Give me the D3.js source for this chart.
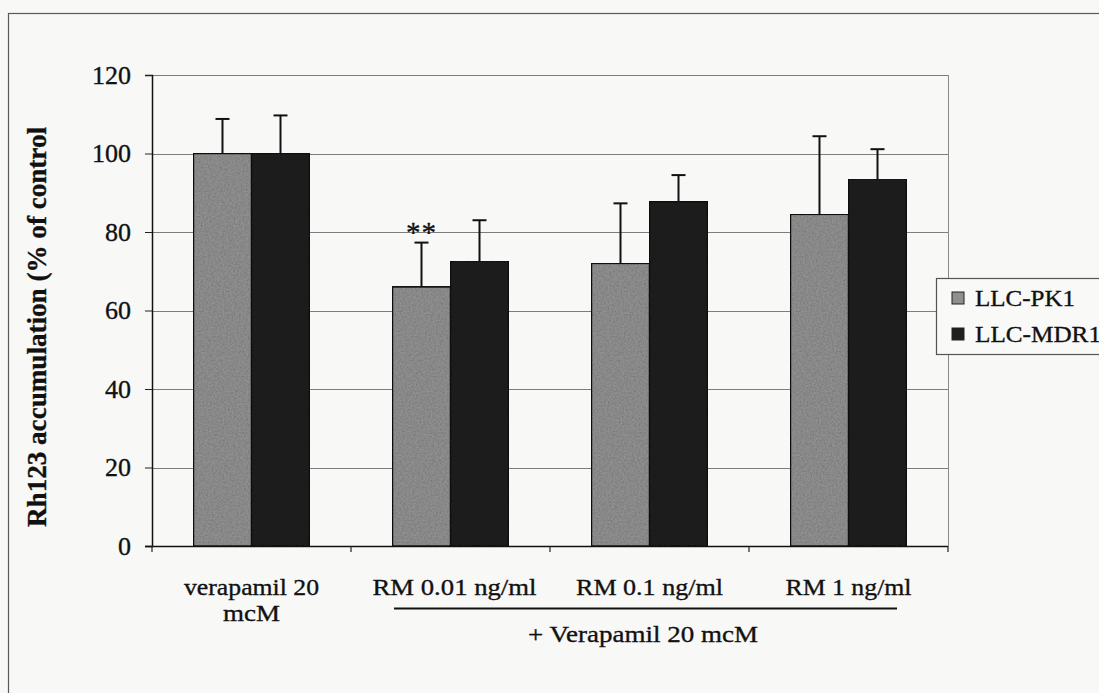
<!DOCTYPE html>
<html>
<head>
<meta charset="utf-8">
<script src="https://cdn.jsdelivr.net/npm/d3@7"></script>
<style>
  html, body { margin: 0; padding: 0; background: #f8f8f7; }
  svg { display: block; }
  svg text { font-family: "Liberation Serif", "Times New Roman", Tinos, Times, serif; fill: #111; stroke: #111; stroke-width: 0.35px; }
</style>
</head>
<body>
<svg id="chart" width="1099" height="693"></svg>
<script>
// Rh123 accumulation, % of control (upper SD shown as error bar)
const categories = ["verapamil 20 mcM", "RM 0.01 ng/ml", "RM 0.1 ng/ml", "RM 1 ng/ml"];
const categoryLines = [["verapamil 20", "mcM"], ["RM 0.01 ng/ml"], ["RM 0.1 ng/ml"], ["RM 1 ng/ml"]];
const seriesNames = ["LLC-PK1", "LLC-MDR1"];
const pk1Values = [100, 66, 72, 84.5];
const pk1Errors = [8.8, 11.3, 15.3, 19.9];
const mdr1Values = [100, 72.6, 87.7, 93.5];
const mdr1Errors = [9.7, 10.4, 6.8, 7.6];
const yTicks = [0, 20, 40, 60, 80, 100, 120];
const yTitle = "Rh123 accumulation (% of control";
const groupLabel = "+ Verapamil 20 mcM";
const significance = [{ category: "RM 0.01 ng/ml", series: "LLC-PK1", mark: "**" }];

const seriesColors = { "LLC-PK1": "#8f8f8f", "LLC-MDR1": "#1f1f1f" };

const svg = d3.select("#chart");
const plot = { left: 152, right: 948, top: 75, bottom: 546 };

// grain for the grey/black fills
const defs = svg.append("defs");
const grain = defs.append("filter").attr("id", "grain").attr("x", 0).attr("y", 0).attr("width", 1).attr("height", 1);
grain.append("feTurbulence").attr("type", "fractalNoise").attr("baseFrequency", 0.55).attr("numOctaves", 2).attr("seed", 4).attr("result", "noise");
grain.append("feColorMatrix").attr("in", "noise").attr("type", "matrix")
  .attr("values", "0 0 0 0 0  0 0 0 0 0  0 0 0 0 0  0 0 0 0.6 -0.2").attr("result", "speckle");
grain.append("feComposite").attr("in", "speckle").attr("in2", "SourceGraphic").attr("operator", "atop").attr("result", "sp");
grain.append("feMerge").call(m => { m.append("feMergeNode").attr("in", "SourceGraphic"); m.append("feMergeNode").attr("in", "sp"); });

// outer frame of the figure
svg.append("rect").attr("x", 8.5).attr("y", 13.5).attr("width", 1200).attr("height", 800)
  .attr("fill", "none").attr("stroke", "#5a5a5a").attr("stroke-width", 1.2);

const x0 = d3.scaleBand().domain(categories).range([plot.left, plot.right]).padding(0);
const x1 = d3.scaleBand().domain(seriesNames).range([0, x0.bandwidth()]).paddingInner(0).paddingOuter(0.715);
const y = d3.scaleLinear().domain([0, 120]).range([plot.bottom, plot.top]);

// gridlines and right border of the plot area
svg.append("g").selectAll("line").data(yTicks.filter(t => t > 0)).join("line")
  .attr("x1", plot.left).attr("x2", plot.right)
  .attr("y1", d => Math.round(y(d)) + 0.5).attr("y2", d => Math.round(y(d)) + 0.5)
  .attr("stroke", "#7d7d7d").attr("stroke-width", 1);
svg.append("line").attr("x1", plot.right + 0.5).attr("x2", plot.right + 0.5)
  .attr("y1", plot.top).attr("y2", plot.bottom).attr("stroke", "#8a8a8a").attr("stroke-width", 1);

// y axis
const yAxis = svg.append("g").attr("transform", `translate(${plot.left},0)`)
  .call(d3.axisLeft(y).tickValues(yTicks).tickSize(7).tickPadding(14));
yAxis.attr("font-family", null).attr("font-size", null);
yAxis.select(".domain").attr("stroke", "#111").attr("stroke-width", 1.5);
yAxis.selectAll(".tick line").attr("stroke", "#222");
yAxis.selectAll(".tick text").attr("font-size", 26).attr("fill", "#111");

// x axis with ticks at category boundaries
const xAxisG = svg.append("g").attr("transform", `translate(0,${plot.bottom})`);
xAxisG.append("line").attr("x1", plot.left - 7).attr("x2", plot.right).attr("y1", 0.5).attr("y2", 0.5)
  .attr("stroke", "#111").attr("stroke-width", 1.5);
const boundaries = categories.map(c => x0(c)).concat([x0(categories[categories.length - 1]) + x0.bandwidth()]);
xAxisG.selectAll("line.tk").data(boundaries).join("line").attr("class", "tk")
  .attr("x1", d => d).attr("x2", d => d).attr("y1", 0).attr("y2", 6)
  .attr("stroke", "#222").attr("stroke-width", 1.2);

// bars
const rows = categories.map((c, i) => ({
  category: c,
  values: [
    { series: "LLC-PK1", value: pk1Values[i], err: pk1Errors[i] },
    { series: "LLC-MDR1", value: mdr1Values[i], err: mdr1Errors[i] }
  ]
}));
const groups = svg.append("g").selectAll("g").data(rows).join("g")
  .attr("transform", d => `translate(${x0(d.category)},0)`);
groups.selectAll("rect").data(d => d.values).join("rect")
  .attr("x", d => x1(d.series)).attr("width", x1.bandwidth())
  .attr("y", d => y(d.value)).attr("height", d => y(0) - y(d.value))
  .attr("fill", d => seriesColors[d.series]).attr("stroke", "#111").attr("stroke-width", 1.5)
  .attr("filter", "url(#grain)");

// upper error bars
const capHalf = 7;
groups.selectAll("line.err").data(d => d.values).join("line").attr("class", "err")
  .attr("x1", d => x1(d.series) + x1.bandwidth() / 2).attr("x2", d => x1(d.series) + x1.bandwidth() / 2)
  .attr("y1", d => y(d.value)).attr("y2", d => y(d.value + d.err))
  .attr("stroke", "#111").attr("stroke-width", 2);
groups.selectAll("line.cap").data(d => d.values).join("line").attr("class", "cap")
  .attr("x1", d => x1(d.series) + x1.bandwidth() / 2 - capHalf).attr("x2", d => x1(d.series) + x1.bandwidth() / 2 + capHalf)
  .attr("y1", d => y(d.value + d.err)).attr("y2", d => y(d.value + d.err))
  .attr("stroke", "#111").attr("stroke-width", 2);

// significance marks
significance.forEach(s => {
  const i = categories.indexOf(s.category);
  const r = rows[i].values.find(v => v.series === s.series);
  svg.append("text")
    .attr("x", x0(s.category) + x1(s.series) + x1.bandwidth() / 2)
    .attr("y", y(r.value + r.err) - 1)
    .attr("text-anchor", "middle").attr("font-size", 29).attr("letter-spacing", 1)
    .text(s.mark);
});

// category labels
const labelWidths = [[135, 57], [164], [147], [126]];
categories.forEach((c, i) => {
  categoryLines[i].forEach((line, j) => {
    svg.append("text")
      .attr("x", x0(c) + x0.bandwidth() / 2 + (i === 1 ? 4 : 0))
      .attr("y", 595 + j * 26)
      .attr("text-anchor", "middle").attr("font-size", 24)
      .attr("textLength", labelWidths[i][j]).attr("lengthAdjust", "spacingAndGlyphs")
      .text(line);
  });
});

// bracket under the RM treatments
const bStart = x0(categories[1]) + 43, bEnd = x0(categories[3]) + 148;
svg.append("line").attr("x1", bStart).attr("x2", bEnd).attr("y1", 608.5).attr("y2", 608.5)
  .attr("stroke", "#111").attr("stroke-width", 1.8);
svg.append("text").attr("x", 643).attr("y", 642).attr("text-anchor", "middle").attr("font-size", 24)
  .attr("textLength", 230).attr("lengthAdjust", "spacingAndGlyphs").text(groupLabel);

// y axis title
svg.append("text").attr("transform", "translate(46,327) rotate(-90)")
  .attr("text-anchor", "middle").attr("font-size", 27).attr("font-weight", "bold")
  .attr("textLength", 400).attr("lengthAdjust", "spacingAndGlyphs")
  .text(yTitle);

// legend
const legend = svg.append("g");
legend.append("rect").attr("x", 936.5).attr("y", 278.5).attr("width", 200).attr("height", 76)
  .attr("fill", "#f9f9f8").attr("stroke", "#555").attr("stroke-width", 1.2);
seriesNames.forEach((s, i) => {
  legend.append("rect").attr("x", 952).attr("y", 292 + i * 36).attr("width", 12).attr("height", 12)
    .attr("fill", seriesColors[s]).attr("stroke", "#222").attr("stroke-width", 1);
  legend.append("text").attr("x", 975).attr("y", 306 + i * 36).attr("font-size", 24)
    .attr("textLength", i === 0 ? 100 : 126).attr("lengthAdjust", "spacingAndGlyphs").text(s);
});
</script>
</body>
</html>
